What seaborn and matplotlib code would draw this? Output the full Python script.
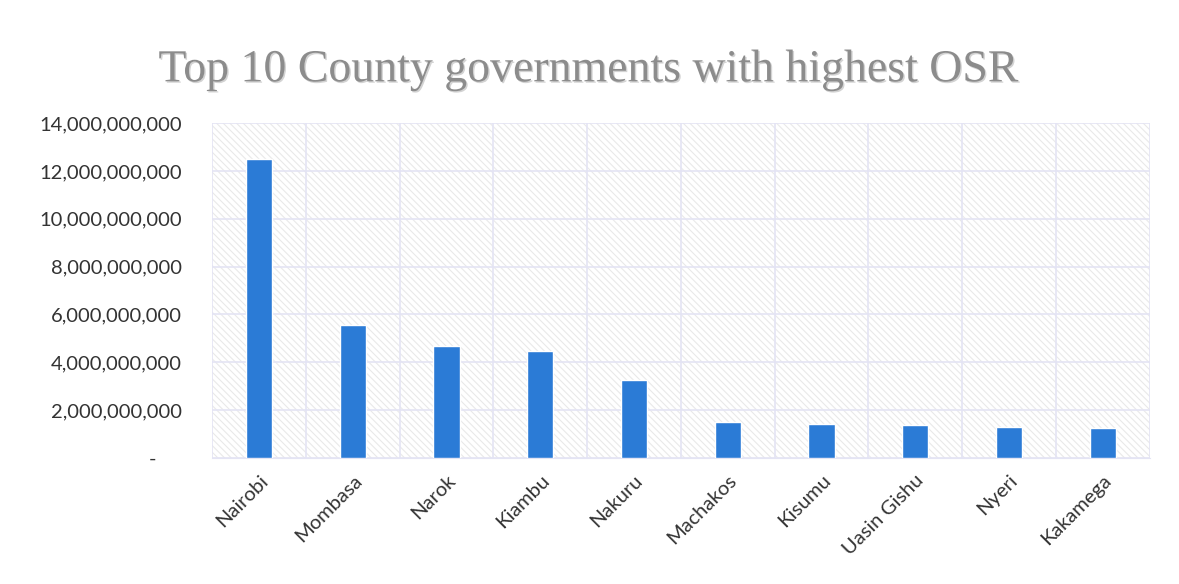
import matplotlib
matplotlib.use("Agg")
import matplotlib.pyplot as plt
import matplotlib.ticker as mticker
import matplotlib.patheffects as pe
from matplotlib.patches import Rectangle
import seaborn as sns
import pandas as pd

# values (KES)
counties = ["Nairobi", "Mombasa", "Narok", "Kiambu", "Nakuru",
            "Machakos", "Kisumu", "Uasin Gishu", "Nyeri", "Kakamega"]
osr = [12.52e9, 5.56e9, 4.68e9, 4.48e9, 3.25e9,
       1.48e9, 1.40e9, 1.36e9, 1.31e9, 1.26e9]

df = pd.DataFrame({"County": counties, "OSR": osr})

sns.set_style("white")
plt.rcParams["font.family"] = ["Lato", "DejaVu Sans"]
plt.rcParams["hatch.linewidth"] = 0.8

fig = plt.figure(figsize=(11.79, 5.84), dpi=100)
ax = fig.add_axes([0.180, 0.216, 0.795, 0.573])

# light diagonal hatch behind the plot area
ax.add_patch(Rectangle((0, 0), 1, 1, transform=ax.transAxes, facecolor="white",
                       edgecolor="#e9e9e9", hatch="\\\\\\\\\\", linewidth=0,
                       zorder=0))

sns.barplot(data=df, x="County", y="OSR", color="#2B7BD6", width=0.28,
            saturation=1, ax=ax, zorder=3)

ax.set_ylim(0, 14e9)
ax.yaxis.set_major_locator(mticker.MultipleLocator(2e9))
ax.yaxis.set_major_formatter(
    mticker.FuncFormatter(lambda v, p: "-     " if v == 0 else f"{v:,.0f}"))

# gridlines: horizontal at ticks, vertical between categories
ax.grid(axis="y", color="#e4e4f4", linewidth=1.2, zorder=1)
ax.set_xticks([i + 0.5 for i in range(-1, len(counties))], minor=True)
ax.grid(axis="x", which="minor", color="#e4e4f4", linewidth=1.2, zorder=1)
ax.set_axisbelow(True)

for s in ["top", "right", "left"]:
    ax.spines[s].set_visible(False)
ax.spines["bottom"].set_color("#e4e4f4")

ax.tick_params(axis="y", labelsize=14.5, labelcolor="#333333", length=0, pad=22)
ax.tick_params(axis="x", which="both", length=0)
ax.tick_params(axis="x", labelsize=14.5, labelcolor="#333333", pad=10)
plt.setp(ax.get_xticklabels(), rotation=45, ha="right", rotation_mode="anchor")
ax.set_xlabel("")
ax.set_ylabel("")

fig.text(0.50, 0.88, "Top 10 County governments with highest OSR",
         ha="center", va="center", fontsize=33, color="#8c8c8c",
         family=["Liberation Serif", "DejaVu Serif"],
         path_effects=[pe.withSimplePatchShadow(offset=(1, -1),
                                                shadow_rgbFace="#c8c8c8",
                                                alpha=0.8)])

fig.savefig("out.png", dpi=100, facecolor="white")
